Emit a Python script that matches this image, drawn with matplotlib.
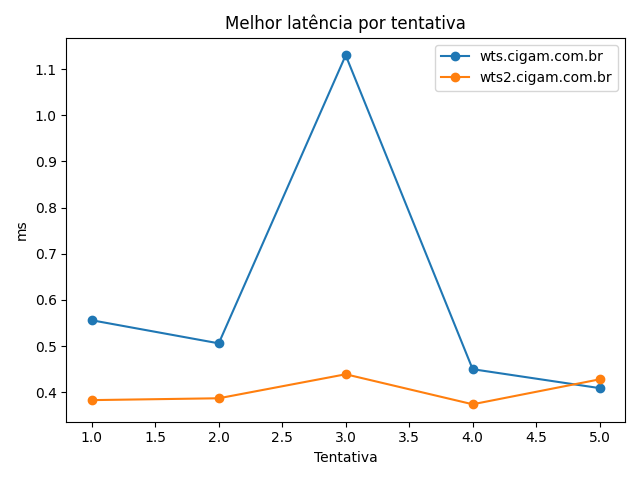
import matplotlib
matplotlib.use("Agg")
import matplotlib.pyplot as plt

tentativas = [1, 2, 3, 4, 5]
wts = [0.556, 0.506, 1.130, 0.450, 0.409]
wts2 = [0.383, 0.387, 0.439, 0.374, 0.428]

fig, ax = plt.subplots(figsize=(6.4, 4.8), dpi=100)
ax.plot(tentativas, wts, marker='o', label='wts.cigam.com.br')
ax.plot(tentativas, wts2, marker='o', label='wts2.cigam.com.br')
ax.set_title('Melhor latência por tentativa')
ax.set_xlabel('Tentativa')
ax.set_ylabel('ms')
ax.legend()
fig.tight_layout()
fig.savefig('out.png')
